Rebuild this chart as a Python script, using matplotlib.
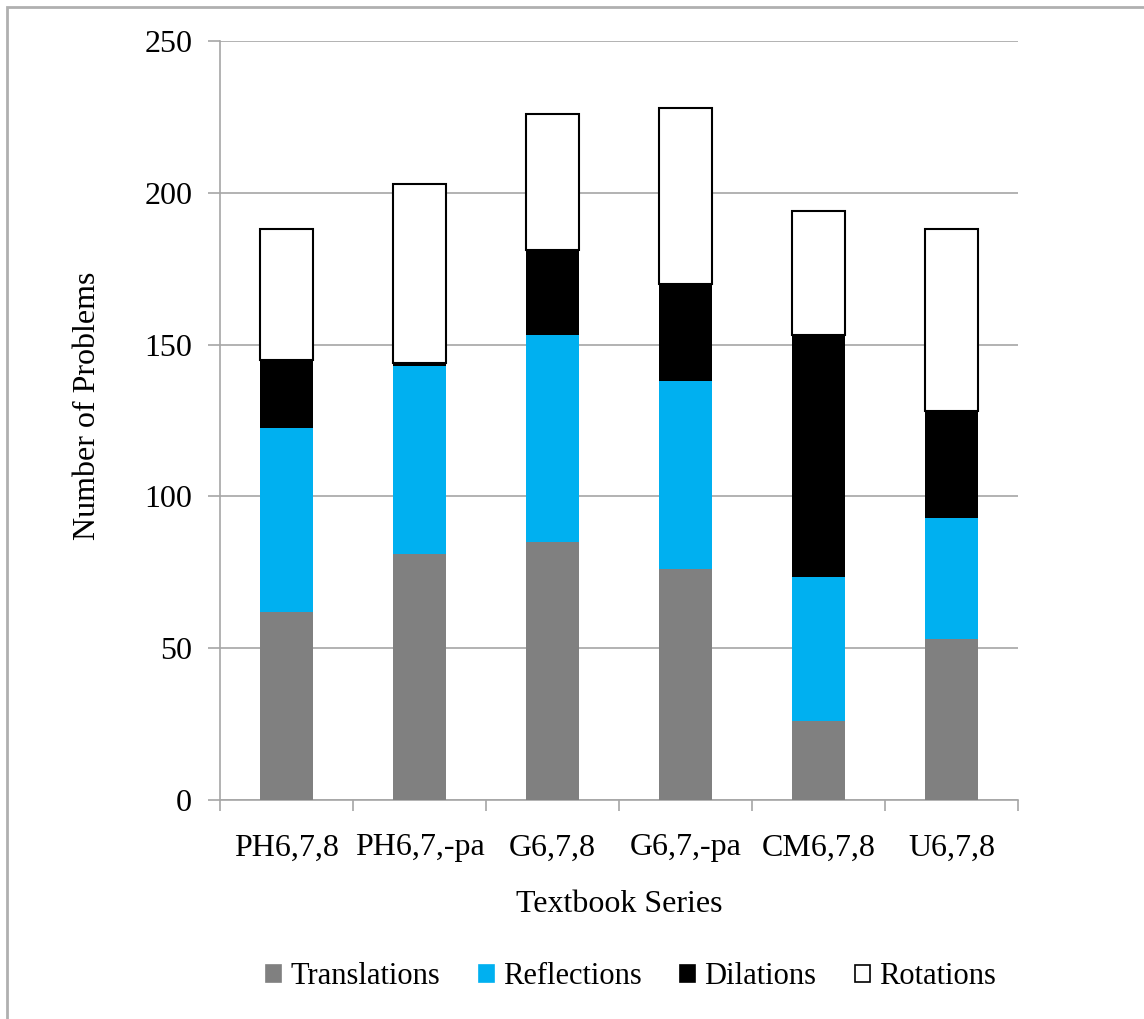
import matplotlib
matplotlib.use("Agg")
import matplotlib.pyplot as plt
from matplotlib.patches import Rectangle, Patch
import numpy as np

plt.rcParams['font.family'] = ['Liberation Serif', 'DejaVu Serif']

series = ["PH6,7,8", "PH6,7,-pa", "G6,7,8", "G6,7,-pa", "CM6,7,8", "U6,7,8"]
translations = [62, 81, 85, 76, 26, 53]
reflections = [60.5, 62, 68, 62, 47.5, 40]
dilations = [22.5, 1, 28, 32, 79.5, 35]
rotations = [43, 59, 45, 58, 41, 60]

labels = ["Translations", "Reflections", "Dilations", "Rotations"]
colors = ["#808080", "#00b0f0", "#000000", "#ffffff"]

fig = plt.figure(figsize=(11.44, 10.19), dpi=100)
ax = fig.add_axes([220 / 1144, 219 / 1019, 798 / 1144, 759 / 1019])

x = np.arange(len(series))
bottom = np.zeros(len(series))
for vals, col, lab in zip([translations, reflections, dilations, rotations], colors, labels):
    if col == "#ffffff":
        ax.bar(x, vals, 0.4, bottom=bottom, color=col, edgecolor="black", linewidth=1.5, zorder=3)
    else:
        ax.bar(x, vals, 0.4, bottom=bottom, color=col, zorder=3)
    bottom += np.array(vals)

ax.set_xlim(-0.5, 5.5)
ax.set_ylim(0, 250)
ax.set_yticks(range(0, 251, 50))
ax.yaxis.grid(True, color="#a6a6a6", linewidth=1.2, zorder=0)
ax.set_xticks(x)
ax.set_xticklabels(series)
ax.set_xticks(np.arange(-0.5, 6, 1), minor=True)
ax.tick_params(axis="x", which="major", length=0, pad=24, labelsize=23)
ax.tick_params(axis="x", which="minor", length=8, color="#a6a6a6", width=1.2)
ax.tick_params(axis="y", length=9, color="#a6a6a6", width=1.2, labelsize=23, pad=11)
for s in ["top", "right"]:
    ax.spines[s].set_visible(False)
for s in ["left", "bottom"]:
    ax.spines[s].set_color("#a6a6a6")
    ax.spines[s].set_linewidth(1.2)

ax.set_xlabel("Textbook Series", fontsize=23, labelpad=20)
ax.set_ylabel("Number of Problems", fontsize=23)
ax.yaxis.set_label_coords(-0.148, 0.519)

handles = [Patch(facecolor=c, edgecolor="black" if c == "#ffffff" else c, linewidth=1.2) for c in colors]
fig.legend(handles, labels, loc="center", bbox_to_anchor=(631 / 1144, 1 - 977 / 1019), ncol=4,
           frameon=False, fontsize=22, handlelength=0.5, handleheight=0.5, handletextpad=0.3,
           columnspacing=1.25)

fig.patches.append(Rectangle((7 / 1144, -0.05), 1.2, 1 - 7 / 1019 + 0.05, transform=fig.transFigure,
                             fill=False, edgecolor="#b0b0b0", linewidth=2))

fig.savefig("out.png", dpi=100)
